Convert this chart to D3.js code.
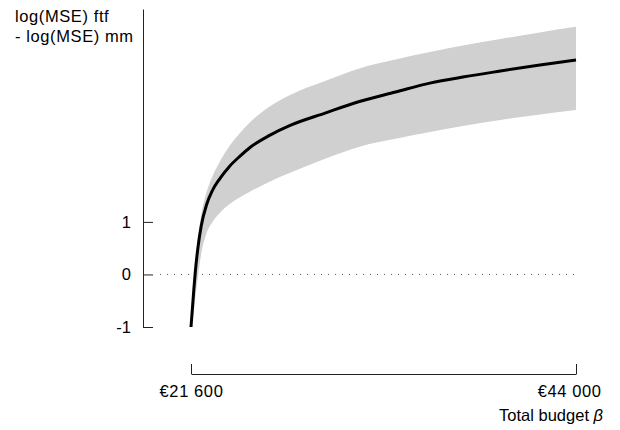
<!DOCTYPE html>
<html>
<head>
<meta charset="utf-8">
<script src="https://cdn.jsdelivr.net/npm/d3@7"></script>
<style>
  body { margin: 0; background: #fff; }
  svg { display: block; font-family: "Liberation Sans", Arial, Helvetica, sans-serif; }
</style>
</head>
<body>
<svg id="chart" width="620" height="430"></svg>
<script>
// ---- data ----
const budget    = [21600, 21750, 21850, 22000, 22200, 22500, 22850, 23250, 23850, 24450, 25050, 26200, 27400, 29400, 31400, 33500, 35500, 37500, 39600, 41800, 44000];
const meanDiff  = [-1.0, -0.35, 0.05, 0.50, 0.93, 1.32, 1.60, 1.81, 2.06, 2.25, 2.42, 2.65, 2.84, 3.07, 3.29, 3.47, 3.64, 3.76, 3.87, 3.98, 4.08];
const upperDiff = [-1.0, -0.25, 0.20, 0.68, 1.14, 1.56, 1.87, 2.13, 2.45, 2.69, 2.90, 3.20, 3.42, 3.68, 3.92, 4.09, 4.23, 4.36, 4.48, 4.60, 4.71];
const lowerDiff = [-1.0, -0.75, -0.45, -0.05, 0.40, 0.78, 1.00, 1.16, 1.34, 1.47, 1.58, 1.77, 1.94, 2.20, 2.43, 2.58, 2.71, 2.83, 2.94, 3.04, 3.13];
const xTickValues = [21600, 44000];
const xTickLabels = ["€21 600", "€44 000"];
const yTickValues = [-1, 0, 1];
const yTickLabels = ["-1", "0", "1"];
const zeroLineX = [19800, 44000];
const yLabelLines = ["log(MSE) ftf", "- log(MSE) mm"];
const xLabel = "Total budget ";
const xLabelSymbol = "β";

// ---- chart ----
const svg = d3.select("#chart");
const x = d3.scaleLinear().domain([21600, 44000]).range([191, 576]);
const y = d3.scaleLinear().domain([-1, 5.05]).range([327, 9]);
const FS = 16.5;

const rows = budget.map((b, i) => ({ b, m: meanDiff[i], lo: lowerDiff[i], hi: upperDiff[i] }));

// band
svg.append("path")
  .datum(rows)
  .attr("fill", "#d0d0d0")
  .attr("d", d3.area().curve(d3.curveMonotoneX)
    .x(d => x(d.b)).y0(d => y(d.lo)).y1(d => y(d.hi)));

// zero reference line
svg.append("line")
  .attr("x1", x(zeroLineX[0])).attr("x2", x(zeroLineX[1]))
  .attr("y1", y(0)).attr("y2", y(0))
  .attr("stroke", "#555").attr("stroke-width", 1)
  .attr("stroke-dasharray", "1,6");

// mean line
svg.append("path")
  .datum(rows)
  .attr("fill", "none")
  .attr("stroke", "#000")
  .attr("stroke-width", 3)
  .attr("d", d3.line().curve(d3.curveMonotoneX).x(d => x(d.b)).y(d => y(d.m)));

// y axis
const yAxis = d3.axisLeft(y)
  .tickValues(yTickValues)
  .tickFormat((d, i) => yTickLabels[i])
  .tickSizeInner(-10).tickSizeOuter(0).tickPadding(12);
const gy = svg.append("g").attr("transform", "translate(143,0)").call(yAxis);
gy.selectAll("text").attr("font-size", FS).attr("fill", "#000").attr("font-family", "Liberation Sans, Arial, sans-serif");
gy.selectAll("line, path").attr("stroke", "#222");

// x axis
const xAxis = d3.axisBottom(x)
  .tickValues(xTickValues)
  .tickFormat((d, i) => xTickLabels[i])
  .tickSizeInner(-10).tickSizeOuter(0).tickPadding(11);
const gx = svg.append("g").attr("transform", "translate(0,374)").call(xAxis);
gx.selectAll("text").attr("font-size", FS).attr("fill", "#000")
  .attr("letter-spacing", 0.6)
  .attr("font-family", "Liberation Sans, Arial, sans-serif");
gx.selectAll("text").filter((d, i) => i === xTickValues.length - 1)
  .attr("text-anchor", "end").attr("x", 25);
gx.selectAll("line, path").attr("stroke", "#222");

// y label
const yl = svg.append("text").attr("x", 15).attr("y", 22).attr("font-size", FS).attr("fill", "#000").attr("letter-spacing", 0.6);
yLabelLines.forEach((t, i) => yl.append("tspan").attr("x", 15).attr("dy", i === 0 ? 0 : 20).text(t));

// x label
const xl = svg.append("text").attr("x", 603).attr("y", 421).attr("text-anchor", "end").attr("font-size", FS).attr("fill", "#000");
xl.append("tspan").text(xLabel);
xl.append("tspan").attr("font-style", "italic").text(xLabelSymbol);
</script>
</body>
</html>
